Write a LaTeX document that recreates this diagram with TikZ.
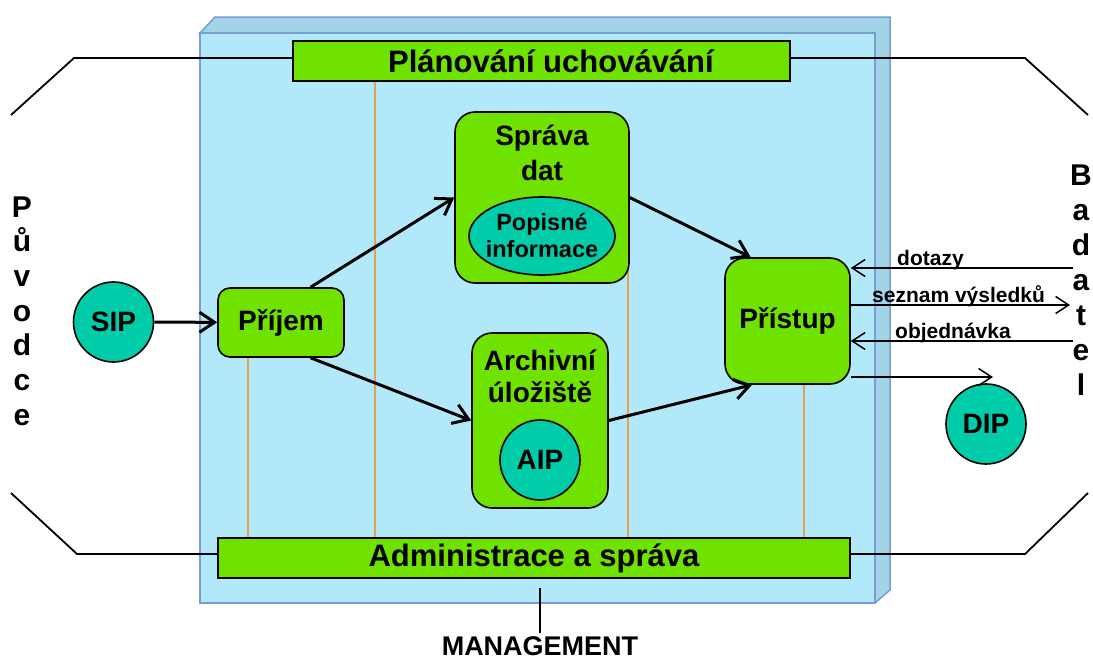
\documentclass[tikz,border=0pt]{standalone}
\usepackage{fontspec}
\setmainfont{Liberation Sans}
\usetikzlibrary{arrows.meta,shapes.geometric,calc}
\definecolor{boxfront}{RGB}{178,233,250}
\definecolor{boxside}{RGB}{160,212,230}
\definecolor{boxedge}{RGB}{122,156,210}
\definecolor{grn}{RGB}{112,226,0}
\definecolor{tealpkg}{RGB}{0,204,170}
\definecolor{orng}{RGB}{232,160,80}
\pgfdeclarelayer{boxlayer}
\pgfdeclarelayer{linelayer}
\pgfsetlayers{boxlayer,linelayer,main}
\begin{document}
\begin{tikzpicture}[x=1pt,y=-1pt,
  proc/.style={draw=black, line width=1.6pt, fill=grn, rounded corners=#1, inner sep=0pt,
    font=\bfseries\fontsize{28}{34}\selectfont},
  band/.style={draw=black, line width=1.6pt, fill=grn, inner sep=0pt,
    font=\bfseries\fontsize{31}{36}\selectfont},
  pkg/.style={circle, draw=black, line width=1.6pt, fill=tealpkg, inner sep=0pt,
    minimum size=80pt, font=\bfseries\fontsize{28}{32}\selectfont},
  lbl/.style={inner sep=0pt, font=\bfseries\fontsize{28}{34}\selectfont},
  side/.style={inner sep=0pt, font=\bfseries\fontsize{30}{34}\selectfont},
  small/.style={inner sep=0pt, font=\bfseries\fontsize{21}{25}\selectfont},
  flow/.style={line width=3pt, -{Straight Barb[length=15pt,width=20pt]}},
  sig/.style={line width=1.5pt, -{Straight Barb[length=13pt,width=17pt]}},
  outl/.style={line width=1.8pt},
  tie/.style={orng, line width=1.5pt}]
\useasboundingbox (0,0) rectangle (1093,659);

% 3D box
\begin{pgfonlayer}{boxlayer}
\filldraw[fill=boxside, draw=boxedge, line width=1.5pt]
  (200,33) -- (215,17) -- (890,17) -- (890,590) -- (875,603) -- (875,33) -- cycle;
\filldraw[fill=boxfront, draw=boxedge, line width=1.5pt] (200,33) rectangle (875,603);
\end{pgfonlayer}

% bands
\node[band, minimum width=497pt, minimum height=40pt] (plan) at (541.5,61) {};
\node[band, draw=none, fill=none] (planlbl) at (551,61) {Plánování uchovávání};
\node[band, minimum width=632pt, minimum height=40pt] (admin) at (534,558) {Administrace a správa};

% processes
\node[proc=12pt, minimum width=126pt, minimum height=69pt] (prijem) at (281,322.5) {Příjem};
\node[proc=20pt, minimum width=174pt, minimum height=171pt] (sprava) at (542,197.5) {};
\node[lbl, anchor=base] (sprava1) at (542,145) {Správa};
\node[lbl, anchor=base] (sprava2) at (542,180) {dat};
\node[ellipse, draw=black, line width=1.6pt, fill=tealpkg, minimum width=146pt, minimum height=78pt, inner sep=0pt] (popis) at (542,236) {};
\node[inner sep=0pt, anchor=base, font=\bfseries\fontsize{23.5}{28}\selectfont] (popis1) at (542,230) {Popisné};
\node[inner sep=0pt, anchor=base, font=\bfseries\fontsize{23.5}{28}\selectfont] (popis2) at (542,257) {informace};
\node[proc=20pt, minimum width=136pt, minimum height=175pt] (archiv) at (540,420.5) {};
\node[lbl, anchor=base] (archiv1) at (540,370) {Archivní};
\node[lbl, anchor=base] (archiv2) at (540,402) {úložiště};
\node[pkg] (aip) at (540,460) {AIP};
\node[proc=20pt, minimum width=125pt, minimum height=126pt] (pristup) at (787.5,321) {Přístup};

% packages
\node[pkg] (sip) at (113.5,322) {SIP};
\node[pkg] (dip) at (986,424) {DIP};

% side texts
\foreach \ch [count=\i from 0] in {P,ů,v,o,d,c,e}
  \node[side, anchor=base] (puv\i) at (22,217+34.7*\i) {\ch};
\foreach \ch [count=\i from 0] in {B,a,d,a,t,e,l}
  \node[side, anchor=base] (bad\i) at (1081,185+35*\i) {\ch};

% outline lines
\coordinate (tl1) at (11,115);
\coordinate (tl2) at (74,58);
\coordinate (tr2) at (1025,58);
\coordinate (tr1) at (1088,115);
\coordinate (bl1) at (11,493);
\coordinate (bl2) at (77,554);
\coordinate (br2) at (1025,554);
\coordinate (br1) at (1088,493);
\draw[outl] (tl1) -- (tl2) -- (tl2 -| plan.west);
\draw[outl] (plan.east |- tr2) -- (tr2) -- (tr1);
\draw[outl] (bl1) -- (bl2) -- (bl2 -| admin.west);
\draw[outl] (admin.east |- br2) -- (br2) -- (br1);

% orange ties
\begin{pgfonlayer}{linelayer}
\coordinate (o1) at (248,330);
\coordinate (o2) at (375,70);
\coordinate (o3) at (628,260);
\coordinate (o4) at (804,370);
\draw[tie] (o1) -- (o1 |- admin.north);
\draw[tie] (o2) -- (o2 |- admin.north);
\draw[tie] (o3) -- (o3 |- admin.north);
\draw[tie] (o4) -- (o4 |- admin.north);
\end{pgfonlayer}

% main flows
\draw[flow] (sip) -- (prijem);
\draw[flow] (prijem.50) -- (sprava.west);
\draw[flow] (prijem.-50) -- (archiv.west);
\draw[flow] (sprava.east) -- (pristup.120);
\draw[flow] (archiv.east) -- (pristup.-119);

% access signals
\coordinate (q1) at (1073,268);
\coordinate (q2) at (1070,305);
\coordinate (q3) at (1073,341);
\coordinate (q4) at (993,377);
\draw[sig] (q1) -- (q1 -| pristup.east);
\draw[sig] (q2 -| pristup.east) -- (q2);
\draw[sig] (q3) -- (q3 -| pristup.east);
\draw[sig] (q4 -| pristup.east) -- (q4);
\node[small, anchor=base west] (ldot) at (897,265) {dotazy};
\node[small, anchor=base west] (lsez) at (872,302) {seznam výsledků};
\node[small, anchor=base west] (lobj) at (895,338) {objednávka};

% management
\coordinate (m0) at (540,588);
\node[inner sep=3pt, anchor=base, font=\bfseries\fontsize{27}{32}\selectfont] (mgmt) at (540,655) {MANAGEMENT};
\draw[line width=1.5pt] (m0) -- (mgmt.north);
\end{tikzpicture}
\end{document}
